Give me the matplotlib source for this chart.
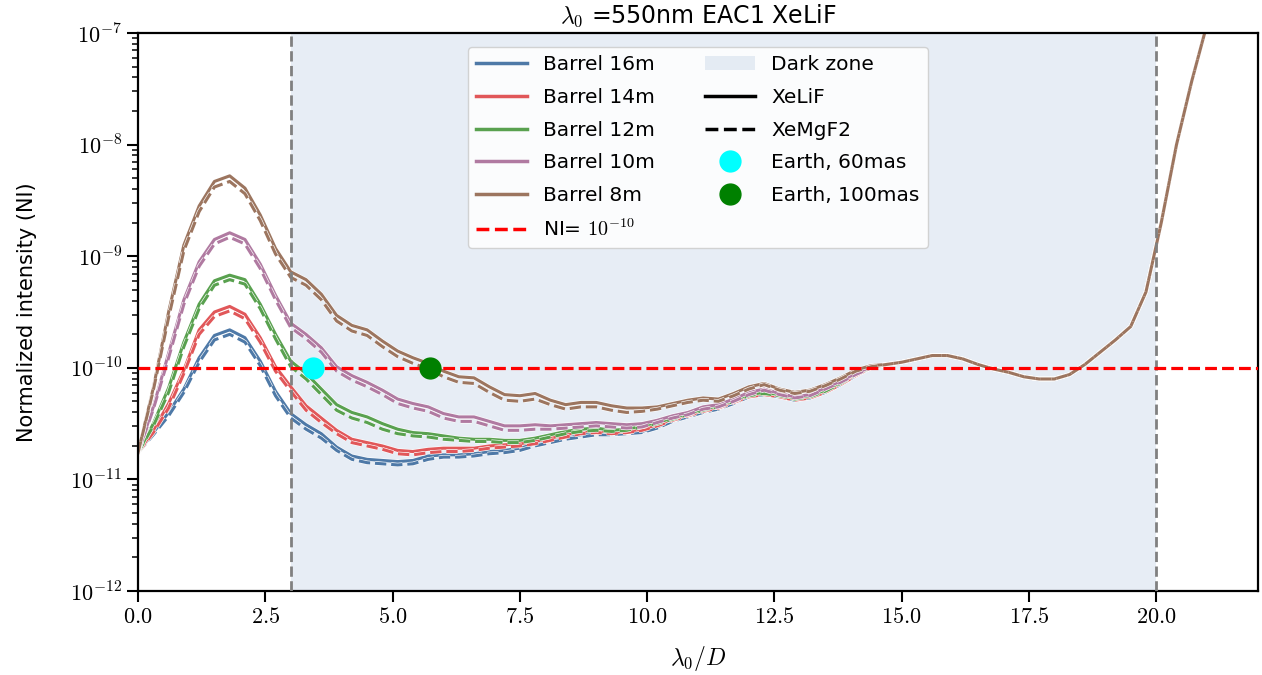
import numpy as np
import matplotlib
matplotlib.use("Agg")
import matplotlib.pyplot as plt
import matplotlib.patheffects as pe
from matplotlib.lines import Line2D
from matplotlib.patches import Patch
from matplotlib.ticker import FuncFormatter, FixedLocator, MultipleLocator, NullFormatter

plt.rcParams["mathtext.fontset"] = "cm"
plt.rcParams["font.family"] = "DejaVu Sans"

# --- data (log10 of normalized intensity) ----------------------------------
# sampling in lambda0/D: 0.0 ... 14.4 where curves differ, 14.7 ... 21.0 shared tail
x_head = np.linspace(0.0, 14.4, 49)
x_tail = np.linspace(14.7, 21.0, 22)

barrels = ["Barrel 16m", "Barrel 14m", "Barrel 12m", "Barrel 10m", "Barrel 8m"]
colors = ["#4e79a7", "#e15759", "#59a14f", "#b07aa1", "#9c755f"]

# XeLiF (solid)
lif_16m = [-10.76, -10.58, -10.40, -10.19, -9.91, -9.71, -9.66, -9.73, -9.94, -10.21,
           -10.41, -10.51, -10.59, -10.71, -10.79, -10.82, -10.83, -10.84, -10.83, -10.79,
           -10.78, -10.78, -10.77, -10.75, -10.74, -10.72, -10.68, -10.65, -10.62, -10.60,
           -10.58, -10.59, -10.58, -10.57, -10.53, -10.47, -10.43, -10.39, -10.36, -10.31,
           -10.25, -10.23, -10.25, -10.28, -10.26, -10.21, -10.14, -10.06, -10.00]
lif_14m = [-10.76, -10.56, -10.32, -10.02, -9.66, -9.50, -9.45, -9.52, -9.73, -9.99,
           -10.17, -10.34, -10.45, -10.56, -10.64, -10.67, -10.70, -10.74, -10.75, -10.73,
           -10.72, -10.72, -10.72, -10.70, -10.69, -10.68, -10.66, -10.63, -10.60, -10.57,
           -10.56, -10.58, -10.57, -10.55, -10.51, -10.46, -10.42, -10.38, -10.35, -10.30,
           -10.25, -10.23, -10.25, -10.28, -10.26, -10.21, -10.14, -10.06, -10.00]
lif_12m = [-10.76, -10.50, -10.18, -9.77, -9.43, -9.22, -9.17, -9.21, -9.43, -9.70,
           -9.94, -10.05, -10.19, -10.33, -10.40, -10.44, -10.50, -10.55, -10.58, -10.59,
           -10.61, -10.63, -10.64, -10.64, -10.65, -10.65, -10.63, -10.60, -10.57, -10.55,
           -10.54, -10.56, -10.55, -10.52, -10.49, -10.45, -10.41, -10.37, -10.34, -10.29,
           -10.24, -10.22, -10.24, -10.27, -10.25, -10.20, -10.13, -10.05, -10.00]
lif_10m = [-10.76, -10.35, -9.87, -9.39, -9.05, -8.85, -8.79, -8.85, -9.07, -9.35,
           -9.60, -9.70, -9.82, -9.99, -10.07, -10.13, -10.20, -10.28, -10.32, -10.35,
           -10.41, -10.44, -10.44, -10.48, -10.52, -10.52, -10.51, -10.52, -10.51, -10.50,
           -10.49, -10.50, -10.51, -10.50, -10.47, -10.43, -10.40, -10.35, -10.33, -10.28,
           -10.22, -10.19, -10.23, -10.26, -10.24, -10.18, -10.12, -10.05, -9.99]
lif_8m = [-10.76, -10.18, -9.50, -8.90, -8.55, -8.33, -8.28, -8.39, -8.63, -8.93,
          -9.14, -9.21, -9.34, -9.53, -9.62, -9.66, -9.76, -9.85, -9.91, -9.96,
          -10.03, -10.08, -10.09, -10.17, -10.24, -10.25, -10.23, -10.29, -10.33, -10.31,
          -10.31, -10.34, -10.36, -10.36, -10.35, -10.32, -10.29, -10.27, -10.28, -10.23,
          -10.17, -10.14, -10.19, -10.22, -10.20, -10.15, -10.09, -10.02, -9.98]

# XeMgF2 (dashed)
mgf_16m = [-10.76, -10.60, -10.43, -10.22, -9.95, -9.75, -9.70, -9.77, -9.98, -10.25,
           -10.45, -10.55, -10.63, -10.74, -10.82, -10.85, -10.86, -10.87, -10.86, -10.82,
           -10.80, -10.80, -10.79, -10.77, -10.76, -10.74, -10.70, -10.67, -10.64, -10.62,
           -10.60, -10.60, -10.59, -10.58, -10.54, -10.48, -10.44, -10.40, -10.37, -10.32,
           -10.26, -10.24, -10.26, -10.29, -10.27, -10.22, -10.15, -10.07, -10.00]
mgf_14m = [-10.76, -10.58, -10.36, -10.05, -9.70, -9.54, -9.49, -9.56, -9.77, -10.03,
           -10.21, -10.38, -10.49, -10.59, -10.67, -10.70, -10.73, -10.77, -10.78, -10.76,
           -10.75, -10.75, -10.74, -10.72, -10.71, -10.70, -10.68, -10.65, -10.62, -10.59,
           -10.58, -10.59, -10.58, -10.56, -10.52, -10.47, -10.43, -10.39, -10.36, -10.31,
           -10.26, -10.24, -10.26, -10.29, -10.27, -10.22, -10.15, -10.07, -10.00]
mgf_12m = [-10.76, -10.52, -10.22, -9.81, -9.47, -9.26, -9.21, -9.25, -9.47, -9.74,
           -9.99, -10.10, -10.24, -10.38, -10.45, -10.49, -10.55, -10.59, -10.61, -10.62,
           -10.64, -10.65, -10.66, -10.66, -10.67, -10.67, -10.65, -10.62, -10.59, -10.57,
           -10.56, -10.57, -10.56, -10.53, -10.50, -10.46, -10.42, -10.38, -10.35, -10.30,
           -10.25, -10.23, -10.25, -10.28, -10.26, -10.21, -10.14, -10.06, -10.00]
mgf_10m = [-10.76, -10.37, -9.91, -9.43, -9.09, -8.89, -8.83, -8.89, -9.11, -9.39,
           -9.64, -9.74, -9.86, -10.03, -10.11, -10.17, -10.24, -10.32, -10.36, -10.39,
           -10.45, -10.48, -10.48, -10.52, -10.56, -10.56, -10.55, -10.55, -10.54, -10.53,
           -10.52, -10.53, -10.54, -10.53, -10.49, -10.45, -10.42, -10.37, -10.35, -10.30,
           -10.24, -10.20, -10.24, -10.27, -10.25, -10.19, -10.13, -10.06, -10.00]
mgf_8m = [-10.76, -10.20, -9.55, -8.95, -8.60, -8.38, -8.33, -8.44, -8.68, -8.98,
          -9.19, -9.26, -9.39, -9.58, -9.67, -9.71, -9.81, -9.90, -9.96, -10.01,
          -10.08, -10.13, -10.14, -10.22, -10.29, -10.30, -10.28, -10.33, -10.37, -10.35,
          -10.35, -10.38, -10.40, -10.39, -10.37, -10.34, -10.31, -10.29, -10.30, -10.25,
          -10.19, -10.15, -10.20, -10.23, -10.21, -10.16, -10.10, -10.03, -9.99]

# shared tail, all barrels and both coatings coincide here
tail = [-9.97, -9.95, -9.92, -9.89, -9.89, -9.92, -9.97, -10.01, -10.04, -10.08, -10.10,
        -10.10, -10.06, -9.97, -9.86, -9.75, -9.63, -9.32, -8.70, -8.00, -7.43, -6.92]

xelif = [lif_16m, lif_14m, lif_12m, lif_10m, lif_8m]
xemgf2 = [mgf_16m, mgf_14m, mgf_12m, mgf_10m, mgf_8m]

earth_labels = ["Earth, 60mas", "Earth, 100mas"]
earth_x = [3.44, 5.73]
earth_ni = [1e-10, 1e-10]
earth_colors = ["cyan", "green"]

ni_limit = 1e-10
dark_zone = (3.0, 20.0)
y_exponents = [-12, -11, -10, -9, -8, -7]

# --- figure ---------------------------------------------------------------
fig = plt.figure(figsize=(12.62, 6.75), dpi=100)
ax = fig.add_axes([0.1094, 0.1244, 0.8874, 0.8267])

x_all = np.concatenate([x_head, x_tail])
stroke = [pe.Stroke(linewidth=3.1, foreground="white"), pe.Normal()]

ax.axvspan(*dark_zone, color="#B0C4DE", alpha=0.3, lw=0, zorder=0)

for lif, mgf, col in zip(xelif, xemgf2, colors):
    ax.plot(x_all, 10 ** np.concatenate([lif, tail]), color=col, lw=2.2,
            path_effects=stroke, zorder=2)
    ax.plot(x_all, 10 ** np.concatenate([mgf, tail]), color=col, lw=2.2, ls="--",
            path_effects=stroke, zorder=2)

for xv in dark_zone:
    ax.axvline(xv, color="gray", ls="--", lw=2.0, zorder=3)
ax.axhline(ni_limit, color="red", ls="--", lw=2.3, zorder=3)

for ex, ey, ec in zip(earth_x, earth_ni, earth_colors):
    ax.plot(ex, ey, "o", color=ec, ms=15, zorder=4)

ax.set_yscale("log")
ax.set_xlim(0, 22)
ax.set_ylim(1e-12, 1e-7)

ax.xaxis.set_major_locator(MultipleLocator(2.5))
ax.xaxis.set_major_formatter(FuncFormatter(lambda v, _: f"${v:.1f}$"))
ax.yaxis.set_major_locator(FixedLocator([10.0 ** e for e in y_exponents]))
minor = [m * 10.0 ** e for e in y_exponents[:-1] for m in range(2, 10)]
ax.yaxis.set_minor_locator(FixedLocator(minor))
ax.yaxis.set_major_formatter(FuncFormatter(lambda v, _: f"$10^{{{int(round(np.log10(v)))}}}$"))
ax.yaxis.set_minor_formatter(NullFormatter())
ax.tick_params(which="major", direction="out", length=8, width=1.5, labelsize=16)
ax.tick_params(which="minor", direction="out", length=4, width=1.1)
for sp in ax.spines.values():
    sp.set_linewidth(1.6)

ax.set_xlabel(r"$\lambda_0/D$", fontsize=17, labelpad=12)
ax.set_ylabel("Normalized intensity (NI)", fontsize=15, labelpad=24)
ax.set_title(r"$\lambda_0$ =550nm EAC1 XeLiF", fontsize=17, pad=7)

# legend
handles = [Line2D([], [], color=c, lw=2.5) for c in colors]
labels = list(barrels)
handles.append(Line2D([], [], color="red", ls="--", lw=2.5))
labels.append(r"NI= $10^{-10}$")
handles.append(Patch(facecolor="#B0C4DE", alpha=0.3, lw=0))
labels.append("Dark zone")
handles.append(Line2D([], [], color="black", lw=2.5))
labels.append("XeLiF")
handles.append(Line2D([], [], color="black", ls="--", lw=2.5))
labels.append("XeMgF2")
for ec, el in zip(earth_colors, earth_labels):
    handles.append(Line2D([], [], marker="o", ls="", color=ec, ms=15))
    labels.append(el)

ax.legend(handles, labels, loc="upper center", ncol=2, fontsize=14.5,
          handlelength=2.5, columnspacing=2.5, labelspacing=0.68,
          borderaxespad=0.7, framealpha=0.85)

fig.savefig("out.png", dpi=100)
